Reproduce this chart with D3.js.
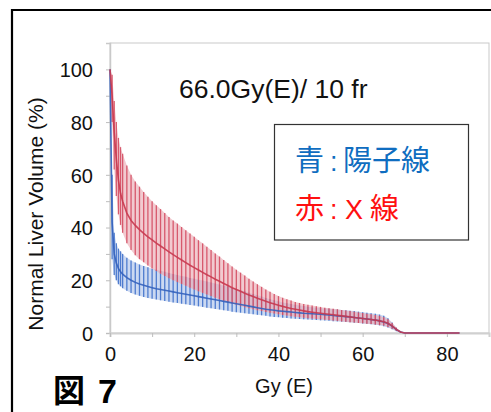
<!DOCTYPE html>
<html><head><meta charset="utf-8">
<script src="https://cdn.jsdelivr.net/npm/d3@7"></script>
<style>
html,body{margin:0;padding:0;background:#fff;}
svg{display:block;}
</style></head>
<body>
<svg id="chart" width="491" height="412"></svg>
<script>
// ---- data ----
const dose     = [0,0.5,1,1.5,2,2.5,3,4,5,6,7,8,9,10,11,12,13,14,15,16,17,18,19,20,21,22,23,24,25,26,27,28,29,30,31,32,33,34,35,36,37,38,39,40,41,42,43,44,45,46,47,48,49,50,51,52,53,54,55,56,57,58,59,60,61,62,63,64,65,66,67,68,69,70,75,80,83];
const redMean  = [100,90,76,66,58,53,50,45.5,42.7,40.8,39.2,37.8,36.5,35.3,34.1,33,31.9,30.8,29.7,28.7,27.7,26.7,25.7,24.8,23.9,23,22.1,21.3,20.4,19.6,18.8,18,17.2,16.5,15.8,15.1,14.4,13.8,13.2,12.6,12,11.5,11,10.5,10.1,9.7,9.3,9,8.7,8.4,8.1,7.9,7.7,7.5,7.3,7.1,6.9,6.7,6.5,6.3,6.1,5.9,5.7,5.5,5.3,5.1,4.9,4.6,4.3,3.7,2.7,1.4,0.4,0,0,0,0];
const redHi    = [100,98,88,80,74,70.5,68,63.5,60,57.5,55.5,53.5,51.7,50,48.5,47,45.5,44,42.7,41.5,40.2,39,37.7,36.5,35.2,34,32.7,31.5,30.2,29,27.7,26.5,25.2,24,22.9,21.8,20.6,19.5,18.5,17.5,16.5,15.6,14.8,14,13.4,12.8,12.3,11.8,11.4,11,10.7,10.4,10.1,9.9,9.6,9.4,9.2,9,8.7,8.5,8.3,8.1,7.8,7.6,7.3,7.1,6.8,6.5,6,5.2,3.8,2,0.6,0,0,0,0];
const redLo    = [100,80,62,52,45,41,38,34,31.5,29.5,28,26.8,25.6,24.5,23.5,22.5,21.6,20.8,20,19.3,18.6,17.9,17.2,16.5,15.8,15.2,14.6,14,13.4,12.8,12.2,11.7,11.2,10.7,10.2,9.8,9.4,9,8.6,8.3,8,7.7,7.4,7.1,6.8,6.6,6.4,6.2,6,5.8,5.6,5.5,5.3,5.2,5,4.9,4.7,4.6,4.4,4.3,4.1,4,3.8,3.7,3.5,3.4,3.2,3,2.8,2.3,1.6,0.8,0.2,0,0,0,0];
const blueMean = [100,42,30,26.5,24.5,23.2,22.3,21,20,19.2,18.6,18.1,17.6,17.2,16.8,16.5,16.2,15.9,15.6,15.3,15,14.7,14.4,14.1,13.8,13.5,13.2,12.9,12.6,12.3,12,11.7,11.4,11.1,10.8,10.5,10.2,9.9,9.6,9.3,9,8.8,8.6,8.4,8.25,8.1,7.95,7.8,7.65,7.5,7.4,7.3,7.2,7.1,6.95,6.8,6.65,6.5,6.35,6.2,6.05,5.9,5.7,5.5,5.3,5.1,4.9,4.6,4.2,3.6,2.6,1.3,0.4,0,0,0,0];
const blueHi   = [100,60,38,34,32,31,30,28.5,27.5,26.7,26,25.4,24.9,24.4,24,23.6,23.2,22.8,22.4,22,21.6,21.3,20.9,20.6,20.2,19.9,19.5,19.2,18.8,18.4,18,17.6,17.1,16.7,16.2,15.8,15.3,14.8,14.3,13.8,13.3,12.8,12.4,12,11.6,11.3,11,10.7,10.4,10.2,10,9.8,9.6,9.5,9.3,9.2,9,8.9,8.7,8.6,8.4,8.3,8.1,7.9,7.7,7.5,7.3,7,6.5,5.6,4,2,0.6,0,0,0,0];
const blueLo   = [100,28,22,20,18.5,17.7,17,16,15.2,14.6,14.1,13.7,13.3,13,12.7,12.4,12.1,11.9,11.6,11.4,11.1,10.9,10.6,10.4,10.1,9.9,9.6,9.4,9.1,8.9,8.6,8.4,8.1,7.9,7.7,7.5,7.3,7.1,6.9,6.7,6.5,6.3,6.1,6,5.8,5.7,5.5,5.4,5.3,5.2,5.1,5,4.9,4.8,4.7,4.6,4.5,4.4,4.3,4.2,4.1,3.9,3.8,3.6,3.5,3.3,3.1,2.9,2.6,2.1,1.4,0.7,0.2,0,0,0,0];
const yTickLabels = [0,20,40,60,80,100];
const xTickLabels = [0,20,40,60,80];
const titleText = "66.0Gy(E)/ 10 fr";
const xLabel = "Gy (E)";
const yLabel = "Normal Liver Volume (%)";
const figLabel = ["図", "7"];
const legendBlue = ["青", ":", "陽子線"];
const legendRed = ["赤", ":", "X", "線"];

// ---- layout ----
const svg = d3.select("#chart");
const latin = "'Liberation Sans', Arial, Helvetica, sans-serif";
const cjk = "'Noto Sans CJK JP', 'Noto Sans CJK SC', sans-serif";
const plot = {left:110, right:489, top:43, bottom:333};
const x = d3.scaleLinear().domain([0,90]).range([plot.left, plot.right]);
const y = d3.scaleLinear().domain([0,110]).range([plot.bottom, plot.top]);

// outer frame (top and left)
svg.append("line").attr("x1",11).attr("x2",491).attr("y1",10).attr("y2",10).attr("stroke","#000").attr("stroke-width",2.2);
svg.append("line").attr("x1",12).attr("x2",12).attr("y1",9).attr("y2",412).attr("stroke","#000").attr("stroke-width",2.2);

// plot area border
svg.append("rect").attr("x",plot.left).attr("y",plot.top).attr("width",plot.right-plot.left).attr("height",plot.bottom-plot.top)
  .attr("fill","none").attr("stroke","#c9c9c9").attr("stroke-width",1);

// y axis
const yAxis = d3.axisLeft(y).tickValues(d3.range(0,101,10)).tickSize(4)
  .tickFormat(d => yTickLabels.includes(d) ? d : "");
const gy = svg.append("g").attr("transform",`translate(${plot.left},0)`).call(yAxis);
gy.select(".domain").attr("stroke","#c9c9c9").attr("stroke-width",1.5);
gy.selectAll(".tick line").attr("stroke","#bdbdbd");
gy.selectAll(".tick text").attr("font-family",latin).attr("font-size",20).attr("fill","#111").attr("x",-17).attr("dy","0.36em");

// x axis
const xAxis = d3.axisBottom(x).tickValues(d3.range(0,81,10)).tickSize(4)
  .tickFormat(d => xTickLabels.includes(d) ? d : "");
const gx = svg.append("g").attr("transform",`translate(0,${plot.bottom})`).call(xAxis);
gx.select(".domain").attr("stroke","#d0d0d0").attr("stroke-width",2);
gx.selectAll(".tick line").attr("stroke","#bdbdbd");
gx.selectAll(".tick text").attr("font-family",latin).attr("font-size",20).attr("fill","#111").attr("y",14).attr("dy","0.71em");

// series
const series = [
  {mean: blueMean, hi: blueHi, lo: blueLo, band:"#a9c0ea", bar:"#3a6cc9", line:"#3462bd"},
  {mean: redMean,  hi: redHi,  lo: redLo,  band:"#eaa6b1", bar:"#d3465c", line:"#c8394f"}
];
const g = svg.append("g");
series.forEach(s => {
  const pts = dose.map((d,i) => ({d, m:s.mean[i], lo:s.lo[i], hi:s.hi[i]}));
  g.append("path").datum(pts.filter(p => p.d <= 70))
    .attr("d", d3.area().x(p => x(p.d)).y0(p => y(p.lo)).y1(p => y(p.hi)))
    .attr("fill", s.band).attr("opacity",0.6);
  g.selectAll(null).data(pts.filter(p => p.hi - p.lo > 0)).enter().append("line")
    .attr("x1", p => x(p.d)).attr("x2", p => x(p.d))
    .attr("y1", p => y(p.lo)).attr("y2", p => y(p.hi))
    .attr("stroke", s.bar).attr("stroke-width",1.3).attr("opacity",0.85);
});
series.forEach(s => {
  const pts = dose.map((d,i) => ({d, m:s.mean[i]}));
  g.append("path").datum(pts)
    .attr("d", d3.line().x(p => x(p.d)).y(p => y(p.m)))
    .attr("fill","none").attr("stroke", s.line).attr("stroke-width",1.6).attr("opacity",0.9);
});

// title
svg.append("text").attr("x",179).attr("y",98).attr("font-family",latin).attr("font-size",26.5).attr("fill","#111").text(titleText);

// legend box
svg.append("rect").attr("x",274.5).attr("y",124.5).attr("width",194).attr("height",115.5)
  .attr("fill","#fff").attr("stroke","#333").attr("stroke-width",1.2);
const blueC = "#0f6dc0", redC = "#ff1010";
const lb = svg.append("g").attr("fill",blueC);
lb.append("text").attr("x",295).attr("y",171).attr("font-family",cjk).attr("font-size",29).text(legendBlue[0]);
lb.append("text").attr("x",330).attr("y",171).attr("font-family",latin).attr("font-size",27).text(legendBlue[1]);
lb.append("text").attr("x",343).attr("y",171).attr("font-family",cjk).attr("font-size",29).text(legendBlue[2]);
const lr = svg.append("g").attr("fill",redC);
lr.append("text").attr("x",295).attr("y",219).attr("font-family",cjk).attr("font-size",29).text(legendRed[0]);
lr.append("text").attr("x",330).attr("y",219).attr("font-family",latin).attr("font-size",27).text(legendRed[1]);
lr.append("text").attr("x",345).attr("y",219).attr("font-family",latin).attr("font-size",27).text(legendRed[2]);
lr.append("text").attr("x",370).attr("y",219).attr("font-family",cjk).attr("font-size",29).text(legendRed[3]);

// axis labels
svg.append("text").attr("x",284).attr("y",393).attr("text-anchor","middle").attr("font-family",latin).attr("font-size",20).attr("fill","#111").text(xLabel);
svg.append("text").attr("transform","translate(43,214) rotate(-90)").attr("text-anchor","middle").attr("font-family",latin).attr("font-size",21).attr("fill","#111").text(yLabel);

// figure label
svg.append("text").attr("x",53).attr("y",402).attr("font-family",cjk).attr("font-weight","bold").attr("font-size",32).attr("fill","#000").text(figLabel[0]);
svg.append("text").attr("x",98).attr("y",403).attr("font-family",latin).attr("font-weight","bold").attr("font-size",34).attr("fill","#000").text(figLabel[1]);
</script>
</body></html>
